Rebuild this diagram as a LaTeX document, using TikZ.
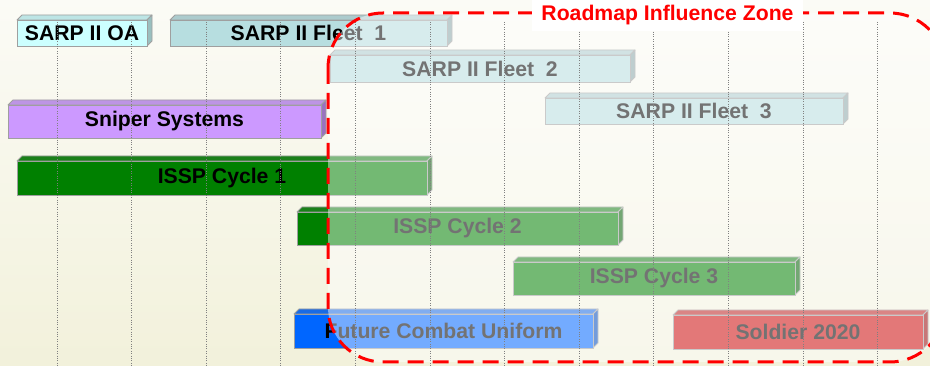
\documentclass[tikz,border=0pt]{standalone}
\usepackage{fontspec}
\setmainfont{Liberation Sans}
\usepackage{xcolor}

\definecolor{oacyan}{RGB}{204,255,255}
\definecolor{fleetteal}{RGB}{183,222,224}
\definecolor{sniperlilac}{RGB}{204,153,255}
\definecolor{isspgreen}{RGB}{0,128,0}
\definecolor{fcublue}{RGB}{0,102,255}
\definecolor{soldierred}{RGB}{205,10,10}
\definecolor{bgtop}{RGB}{251,251,246}
\definecolor{bgbottom}{RGB}{242,241,219}

\tikzset{
  barlabel/.style={draw=gray!75, line width=.8pt, inner sep=0pt, outer sep=0pt,
    font=\fontsize{21.2}{25}\selectfont\bfseries},
  barface/.style={draw=gray!75, line width=.8pt, line join=round},
  gridline/.style={gray, line width=.7pt, dash pattern=on 1pt off 1.4pt},
  zoneline/.style={red, line width=3pt, dash pattern=on 16pt off 9pt, rounded corners=55pt},
  zonelabel/.style={fill=white, text=red, inner sep=0pt, minimum width=271pt,
    minimum height=31pt, font=\fontsize{21.2}{25}\selectfont\bfseries}
}

% bar: name, x1, y1, x2, y2, colour, text
\newcommand{\ganttbar}[7]{%
  \filldraw[barface, fill=#6!80!gray] (#2,#3) -- ++(5,-5) -- (#4+5,#3-5) -- (#4,#3) -- cycle;
  \filldraw[barface, fill=#6!75!black] (#4,#3) -- (#4+5,#3-5) -- (#4+5,#5-5) -- (#4,#5) -- cycle;
  \node[barlabel, fill=#6, minimum width={(#4-#2)*1pt}, minimum height={(#5-#3)*1pt}]
    (#1) at ({(#2+#4)/2},{(#3+#5)/2}) {#7};
}

\begin{document}
\begin{tikzpicture}[x=1pt, y=-1pt]
\useasboundingbox (0,0) rectangle (930,366);
% background
\shade[top color=bgtop, bottom color=bgbottom] (0,0) rectangle (930,366);
% bars
\ganttbar{oa}{17}{20}{147}{46}{oacyan}{SARP II OA}
\ganttbar{fleet1}{170}{20}{447}{46}{fleetteal}{SARP II Fleet\ \ 1}
\ganttbar{fleet2}{330}{55}{630}{82}{fleetteal}{SARP II Fleet\ \ 2}
\ganttbar{fleet3}{545}{98}{843}{124}{fleetteal}{SARP II Fleet\ \ 3}
\ganttbar{sniper}{8}{105}{321}{138}{sniperlilac}{Sniper Systems}
\ganttbar{cycle1}{17}{161}{427}{195}{isspgreen}{ISSP Cycle 1}
\ganttbar{cycle2}{297}{212}{618}{245}{isspgreen}{ISSP Cycle 2}
\ganttbar{cycle3}{513}{262}{795}{295}{isspgreen}{ISSP Cycle 3}
\ganttbar{fcu}{294}{314}{593}{348}{fcublue}{Future Combat Uniform}
\ganttbar{soldier}{673}{315}{923}{349}{soldierred}{Soldier 2020}
% fade inside the zone
\fill[white, opacity=.45, rounded corners=55pt] (328,13) rectangle (945,362);
% grid
\foreach \gx in {0,...,11}
  \draw[gridline] ({57+74.6*\gx},22) -- ({57+74.6*\gx},366);
% zone
\draw[zoneline] (328,13) rectangle (945,362);
\node[zonelabel] (zone) at (667.5,15.5) {Roadmap Influence Zone};
\end{tikzpicture}
\end{document}
